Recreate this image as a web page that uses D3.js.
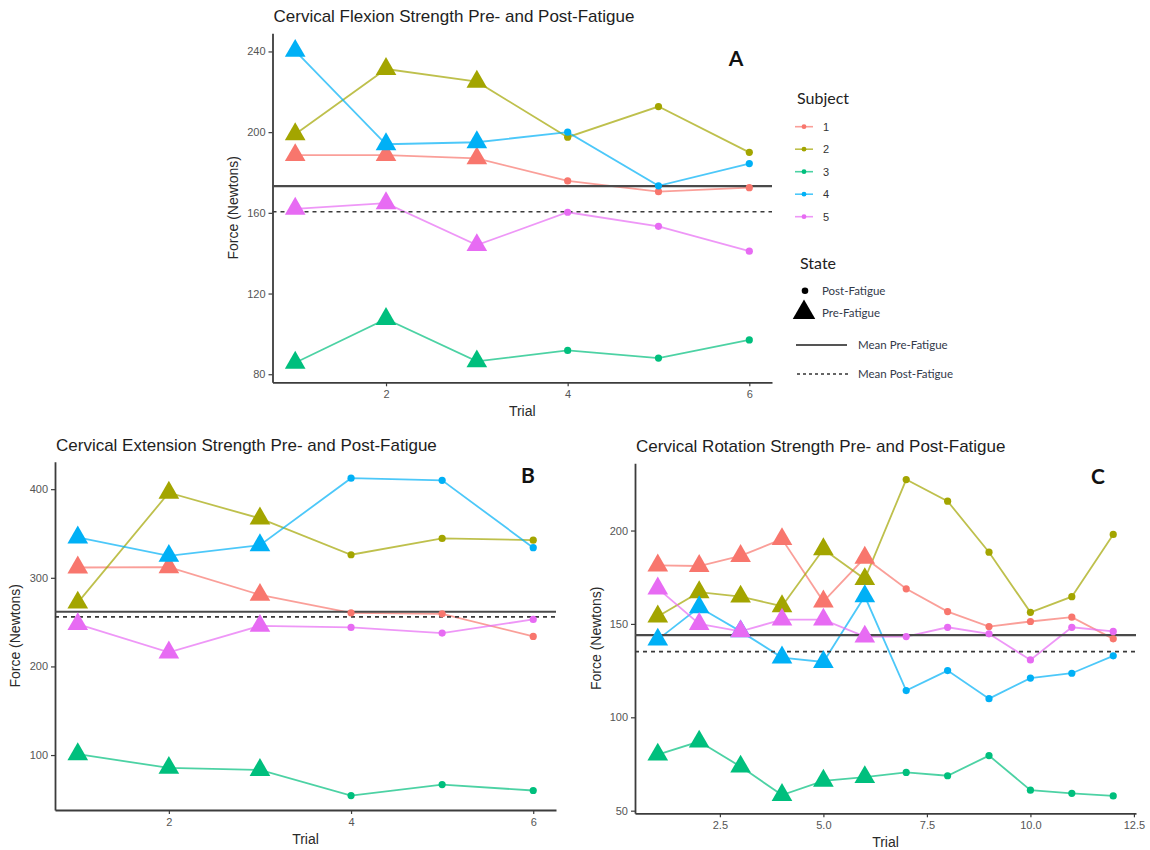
<!DOCTYPE html>
<html>
<head>
<meta charset="utf-8">
<script src="https://cdn.jsdelivr.net/npm/d3@7"></script>
<style>
  html, body { margin: 0; padding: 0; background: #fff; }
  svg { display: block; }
</style>
</head>
<body>
<svg id="chart" width="1150" height="850"></svg>
<script>
// ---------- data ----------
const subjects = ["1", "2", "3", "4", "5"];
const subjectColors = ["#F8766D", "#A3A500", "#00BF7D", "#00B0F6", "#E76BF3"];

const trialsAB = [1, 2, 3, 4, 5, 6];
const stateAB = ["Pre", "Pre", "Pre", "Post", "Post", "Post"];
const trialsC = [1, 2, 3, 4, 5, 6, 7, 8, 9, 10, 11, 12];
const stateC = ["Pre", "Pre", "Pre", "Pre", "Pre", "Pre", "Post", "Post", "Post", "Post", "Post", "Post"];

// A: Cervical flexion (N)
const flexion1 = [188.6, 188.6, 187.0, 175.8, 170.5, 172.5];
const flexion2 = [199.0, 231.3, 225.0, 197.5, 212.7, 190.0];
const flexion3 = [85.7, 107.4, 86.4, 91.8, 88.0, 97.0];
const flexion4 = [240.3, 194.0, 195.0, 200.0, 173.4, 184.4];
const flexion5 = [162.0, 164.8, 144.0, 160.3, 153.3, 141.0];

// B: Cervical extension (N)
const extension1 = [311.6, 312.0, 280.8, 260.5, 259.4, 233.9];
const extension2 = [272.0, 396.0, 367.0, 326.0, 344.4, 342.5];
const extension3 = [101.0, 85.5, 83.2, 54.3, 66.7, 60.0];
const extension4 = [345.5, 324.8, 336.8, 412.4, 410.0, 334.0];
const extension5 = [247.7, 215.8, 245.8, 244.0, 237.6, 253.0];

// C: Cervical rotation (N)
const rotation1 = [181.3, 181.0, 186.4, 195.4, 162.0, 185.4, 168.8, 156.6, 148.6, 151.3, 153.6, 142.0];
const rotation2 = [154.0, 167.0, 164.6, 159.5, 190.0, 174.0, 227.3, 215.7, 188.4, 156.2, 164.6, 197.9];
const rotation3 = [80.0, 87.0, 73.6, 58.4, 66.0, 68.0, 70.5, 68.7, 79.5, 61.0, 59.3, 57.9];
const rotation4 = [141.6, 158.9, 146.0, 132.0, 129.6, 164.8, 114.3, 125.0, 110.0, 121.0, 123.6, 132.9];
const rotation5 = [169.0, 150.0, 146.0, 152.3, 152.3, 143.2, 143.2, 148.2, 144.7, 130.7, 148.2, 146.0];

const ticksA = [80, 120, 160, 200, 240];
const ticksB = [100, 200, 300, 400];
const ticksC = [50, 100, 150, 200];
const xTicksAB = [2, 4, 6];
const xTicksC = [2.5, 5.0, 7.5, 10.0, 12.5];

const titles = [
  "Cervical Flexion Strength Pre- and Post-Fatigue",
  "Cervical Extension Strength Pre- and Post-Fatigue",
  "Cervical Rotation Strength Pre- and Post-Fatigue"
];
const panelLetters = ["A", "B", "C"];
const stateLabels = ["Post-Fatigue", "Pre-Fatigue"];
const meanLabels = ["Mean Pre-Fatigue", "Mean Post-Fatigue"];

// ---------- drawing ----------
const svg = d3.select("#chart");
svg.append("rect").attr("width", 1150).attr("height", 850).attr("fill", "#fff");

const SANS = "'Liberation Sans', Arial, sans-serif";
const LEGEND_FONT = "Lato, 'Open Sans', sans-serif";
const triangle = d3.symbol().type(d3.symbolTriangle).size(185);

function drawPanel(cfg) {
  const x = d3.scaleLinear().domain(cfg.xDomain).range([cfg.left, cfg.right]);
  const y = d3.scaleLinear().domain(cfg.yDomain).range([cfg.bottom, cfg.top]);
  const g = svg.append("g");

  // title
  g.append("text")
    .attr("x", cfg.left + 1).attr("y", cfg.top - 11)
    .attr("font-family", SANS).attr("font-size", 17).attr("fill", "#1e1e1e")
    .text(cfg.title);

  // axes
  const yAxis = d3.axisLeft(y).tickValues(cfg.yTicks).tickSize(4).tickSizeOuter(0).tickPadding(3)
    .tickFormat(d3.format("d"));
  const gy = g.append("g").attr("transform", `translate(${cfg.left},0)`).call(yAxis);
  const xAxis = d3.axisBottom(x).tickValues(cfg.xTicks).tickSize(4).tickSizeOuter(0).tickPadding(4)
    .tickFormat(cfg.xFormat);
  const gx = g.append("g").attr("transform", `translate(0,${cfg.bottom})`).call(xAxis);
  [gx, gy].forEach(ax => {
    ax.select(".domain").attr("stroke", "#3c3c3c").attr("stroke-width", 1.8);
    ax.selectAll(".tick line").attr("stroke", "#3c3c3c").attr("stroke-width", 1.2);
    ax.selectAll(".tick text").attr("font-family", SANS).attr("font-size", 11).attr("fill", "#555");
  });

  // axis titles
  g.append("text")
    .attr("x", (cfg.left + cfg.right) / 2).attr("y", cfg.bottom + 34)
    .attr("text-anchor", "middle")
    .attr("font-family", SANS).attr("font-size", 14).attr("fill", "#2a2a2a")
    .text("Trial");
  g.append("text")
    .attr("transform", `translate(${cfg.yTitleX},${(cfg.top + cfg.bottom) / 2}) rotate(-90)`)
    .attr("text-anchor", "middle")
    .attr("font-family", SANS).attr("font-size", 14).attr("fill", "#2a2a2a")
    .text("Force (Newtons)");

  // series lines
  const line = d3.line().x((d, i) => x(cfg.trials[i])).y(d => y(d));
  cfg.series.forEach((vals, si) => {
    g.append("path").datum(vals)
      .attr("d", line)
      .attr("fill", "none")
      .attr("stroke", subjectColors[si])
      .attr("stroke-opacity", 0.7)
      .attr("stroke-width", 1.8);
  });

  // mean lines
  const preVals = [], postVals = [];
  cfg.series.forEach(vals => vals.forEach((v, i) => (cfg.state[i] === "Pre" ? preVals : postVals).push(v)));
  const preMean = d3.mean(preVals), postMean = d3.mean(postVals);
  g.append("line")
    .attr("x1", cfg.left).attr("x2", cfg.right)
    .attr("y1", y(preMean)).attr("y2", y(preMean))
    .attr("stroke", "#4a4a4a").attr("stroke-width", 2.2);
  g.append("line")
    .attr("x1", cfg.left).attr("x2", cfg.right)
    .attr("y1", y(postMean)).attr("y2", y(postMean))
    .attr("stroke", "#3a3a3a").attr("stroke-width", 1.6).attr("stroke-dasharray", "4,4");

  // points
  cfg.series.forEach((vals, si) => {
    vals.forEach((v, i) => {
      if (cfg.state[i] === "Pre") {
        g.append("path")
          .attr("d", triangle())
          .attr("transform", `translate(${x(cfg.trials[i])},${y(v)})`)
          .attr("fill", subjectColors[si]);
      } else {
        g.append("circle")
          .attr("cx", x(cfg.trials[i])).attr("cy", y(v)).attr("r", 3.6)
          .attr("fill", subjectColors[si]);
      }
    });
  });

  // panel letter
  g.append("text")
    .attr("x", cfg.letterX).attr("y", cfg.letterY)
    .attr("text-anchor", "middle")
    .attr("font-family", LEGEND_FONT).attr("font-weight", "bold").attr("font-size", 21).attr("fill", "#111")
    .text(cfg.letter);
}

drawPanel({
  title: titles[0], letter: panelLetters[0],
  left: 272.5, right: 772, top: 33.3, bottom: 382.3,
  xDomain: [0.75, 6.25], yDomain: [76, 249],
  xTicks: xTicksAB, yTicks: ticksA, xFormat: d3.format("d"),
  trials: trialsAB, state: stateAB,
  series: [flexion1, flexion2, flexion3, flexion4, flexion5],
  yTitleX: 238, letterX: 736, letterY: 66
});

drawPanel({
  title: titles[1], letter: panelLetters[1],
  left: 55, right: 556, top: 461.7, bottom: 810,
  xDomain: [0.75, 6.25], yDomain: [38, 431],
  xTicks: xTicksAB, yTicks: ticksB, xFormat: d3.format("d"),
  trials: trialsAB, state: stateAB,
  series: [extension1, extension2, extension3, extension4, extension5],
  yTitleX: 20, letterX: 528, letterY: 483
});

drawPanel({
  title: titles[2], letter: panelLetters[2],
  left: 635, right: 1136, top: 463.3, bottom: 813.3,
  xDomain: [0.45, 12.55], yDomain: [48.6, 236],
  xTicks: xTicksC, yTicks: ticksC, xFormat: d3.format(".1f"),
  trials: trialsC, state: stateC,
  series: [rotation1, rotation2, rotation3, rotation4, rotation5],
  yTitleX: 601, letterX: 1098, letterY: 484
});

// ---------- legend ----------
const lg = svg.append("g");
lg.append("text").attr("x", 797).attr("y", 104)
  .attr("font-family", LEGEND_FONT).attr("font-size", 16).attr("fill", "#222").text("Subject");
const subjY = d3.scalePoint().domain(subjects).range([126.7, 216.7]);
subjects.forEach((s, i) => {
  const yy = subjY(s);
  lg.append("line").attr("x1", 795).attr("x2", 813).attr("y1", yy).attr("y2", yy)
    .attr("stroke", subjectColors[i]).attr("stroke-opacity", 0.7).attr("stroke-width", 1.6);
  lg.append("circle").attr("cx", 804).attr("cy", yy).attr("r", 2.4).attr("fill", subjectColors[i]);
  lg.append("text").attr("x", 823).attr("y", yy + 4)
    .attr("font-family", SANS).attr("font-size", 11).attr("fill", "#333").text(s);
});

lg.append("text").attr("x", 800).attr("y", 269)
  .attr("font-family", LEGEND_FONT).attr("font-size", 16).attr("fill", "#222").text("State");
lg.append("circle").attr("cx", 805).attr("cy", 290.7).attr("r", 3.3).attr("fill", "#000");
lg.append("text").attr("x", 822).attr("y", 294.5)
  .attr("font-family", LEGEND_FONT).attr("font-size", 11.5).attr("fill", "#333a4a").text(stateLabels[0]);
lg.append("path").attr("d", d3.symbol().type(d3.symbolTriangle).size(220)())
  .attr("transform", "translate(804,312.5)").attr("fill", "#000");
lg.append("text").attr("x", 822).attr("y", 317)
  .attr("font-family", LEGEND_FONT).attr("font-size", 11.5).attr("fill", "#333a4a").text(stateLabels[1]);

lg.append("line").attr("x1", 796).attr("x2", 847).attr("y1", 345).attr("y2", 345)
  .attr("stroke", "#555").attr("stroke-width", 2);
lg.append("text").attr("x", 858).attr("y", 349)
  .attr("font-family", LEGEND_FONT).attr("font-size", 11.5).attr("fill", "#333a4a").text(meanLabels[0]);
lg.append("line").attr("x1", 797).attr("x2", 848).attr("y1", 374).attr("y2", 374)
  .attr("stroke", "#333").attr("stroke-width", 1.5).attr("stroke-dasharray", "3,3");
lg.append("text").attr("x", 858).attr("y", 378)
  .attr("font-family", LEGEND_FONT).attr("font-size", 11.5).attr("fill", "#333a4a").text(meanLabels[1]);
</script>
</body>
</html>
